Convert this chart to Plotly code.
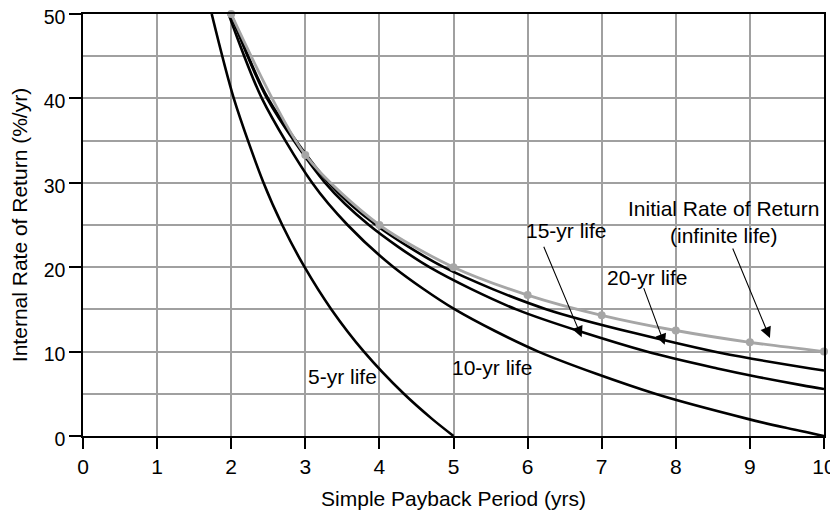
import plotly.graph_objects as go

# --- data: simple payback (yrs) vs internal rate of return (%/yr) ---
life5_x = [1.737, 2.035, 2.436, 2.689, 2.991, 3.352, 3.791, 4.330, 4.714, 5.0]
life5_y = [50, 40, 30, 25, 20, 15, 10, 5, 2, 0]

life10_x = [1.965, 2.414, 3.092, 3.571, 4.193, 5.019, 6.145, 7.722, 8.983, 9.471, 10.0]
life10_y = [50, 40, 30, 25, 20, 15, 10, 5, 2, 1, 0]

life15_x = [1.995, 2.484, 3.268, 3.859, 4.676, 5.847, 7.606, 8.560, 9.108, 9.712, 10.0]
life15_y = [50, 40, 30, 25, 20, 15, 10, 8, 7, 6, 5.56]

life20_x = [1.999, 2.497, 3.316, 3.954, 4.870, 6.259, 8.514, 9.129, 9.818, 10.0]
life20_y = [50, 40, 30, 25, 20, 15, 10, 9, 8, 7.75]

initial_x = [2, 3, 4, 5, 6, 7, 8, 9, 10]
initial_y = [50.0, 33.3, 25.0, 20.0, 16.7, 14.3, 12.5, 11.1, 10.0]

x_ticks = list(range(0, 11))
y_ticks = [0, 10, 20, 30, 40, 50]

FONT = "Liberation Sans, Arial, Helvetica, sans-serif"
FS = 21
TICK_FS = 19.5

fig = go.Figure()

for xs, ys in [(life5_x, life5_y), (life10_x, life10_y), (life15_x, life15_y), (life20_x, life20_y)]:
    fig.add_trace(go.Scatter(
        x=xs, y=ys, mode="lines", line=dict(color="black", width=2.6, shape="spline", smoothing=0.8),
        showlegend=False, hoverinfo="skip", cliponaxis=True))

# initial rate of return (infinite life), grey with dots
fig.add_trace(go.Scatter(
    x=initial_x, y=initial_y, mode="lines+markers",
    line=dict(color="#a6a6a6", width=2.8, shape="spline", smoothing=0.8),
    marker=dict(color="#a6a6a6", size=8),
    showlegend=False, hoverinfo="skip", cliponaxis=False))

# curve labels
labels = [
    ("5-yr life", 3.5, 7.0),
    ("10-yr life", 5.53, 8.1),
    ("15-yr life", 6.52, 24.4),
    ("20-yr life", 7.62, 18.8),
    ("Initial Rate of Return<br>(infinite life)", 8.64, 25.4),
]
for txt, lx, ly in labels:
    fig.add_annotation(x=lx, y=ly, text=txt, showarrow=False,
                       font=dict(family=FONT, size=FS, color="black"))

# pointer arrows: (tail x, tail y, head x, head y)
arrows = [
    (6.21, 22.6, 6.73, 11.7),
    (7.56, 17.7, 7.85, 10.8),
    (8.76, 22.4, 9.27, 11.6),
]
for tx, ty, hx, hy in arrows:
    fig.add_annotation(x=hx, y=hy, ax=tx, ay=ty, axref="x", ayref="y", xref="x", yref="y",
                       text="", showarrow=True, arrowhead=2, arrowsize=2, arrowwidth=1.1,
                       arrowcolor="black", standoff=0)

fig.update_xaxes(
    range=[0, 10], tickvals=x_ticks, ticks="outside", ticklen=11, tickwidth=1.5, tickcolor="black",
    showline=True, linecolor="black", linewidth=1.5, mirror=True, automargin=False,
    showgrid=True, gridcolor="#a0a0a0", gridwidth=1.5, zeroline=False, ticklabeloverflow="allow",
    tickfont=dict(family=FONT, size=FS, color="black"),
    title=dict(text="Simple Payback Period (yrs)", font=dict(family=FONT, size=FS, color="black"), standoff=14))

fig.update_yaxes(
    range=[0, 50], tickvals=y_ticks, ticks="outside", ticklen=12, tickwidth=1.5, tickcolor="black",
    showline=True, linecolor="black", linewidth=1.5, mirror=True, automargin=False,
    showgrid=True, gridcolor="#a0a0a0", gridwidth=1.5, zeroline=False, ticklabeloverflow="allow",
    ticklabelshift=3,
    minor=dict(dtick=5, showgrid=True, gridcolor="#a0a0a0", gridwidth=1.5, ticks=""),
    tickfont=dict(family=FONT, size=TICK_FS, color="black"),
    title=dict(text="Internal Rate of Return (%/yr)", font=dict(family=FONT, size=FS, color="black"), standoff=18))

# the page body adds an 8px offset, so margins are shifted to keep the plot box in place
fig.update_layout(
    width=838, height=512,
    margin=dict(l=75, r=22, t=6, b=84),
    plot_bgcolor="white", paper_bgcolor="white",
    font=dict(family=FONT, color="black"),
)

fig.write_html("out.html")
